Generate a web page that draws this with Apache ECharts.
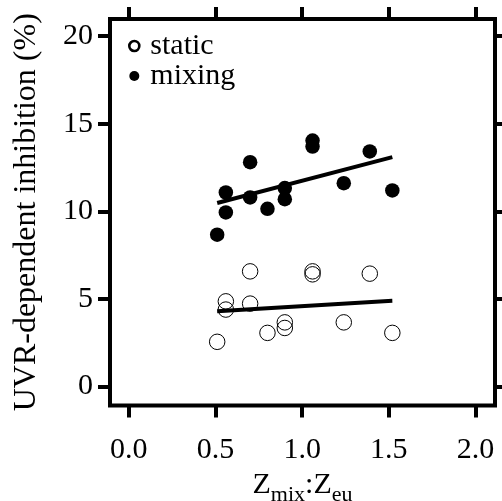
<!DOCTYPE html>
<html>
<head>
<meta charset="utf-8">
<script src="https://cdn.jsdelivr.net/npm/echarts@6/dist/echarts.min.js"></script>
<style>
html,body{margin:0;padding:0;background:#fff;}
#c{width:502px;height:501px;}
</style>
</head>
<body>
<div id="c"></div>
<script>
// Data
var staticPts = [
  [0.51, 2.55], [0.56, 4.86], [0.56, 4.39], [0.70, 6.57], [0.70, 4.73],
  [0.80, 3.06], [0.90, 3.66], [0.90, 3.34], [1.06, 6.57], [1.06, 6.40],
  [1.24, 3.66], [1.39, 6.44], [1.52, 3.06]
];
var mixingPts = [
  [0.51, 8.66], [0.56, 11.07], [0.56, 9.93], [0.70, 12.80], [0.70, 10.79],
  [0.80, 10.14], [0.90, 11.32], [0.90, 10.69], [1.06, 14.03], [1.06, 13.69],
  [1.24, 11.60], [1.39, 13.41], [1.52, 11.19]
];
var staticFit = [[0.51, 4.29], [1.52, 4.90]];
var mixingFit = [[0.51, 10.47], [1.52, 13.09]];
var xTicks = [0, 0.5, 1, 1.5, 2];
var yTicks = [0, 5, 10, 15, 20];

var FONT = "'Liberation Serif', 'Times New Roman', Times, 'DejaVu Serif', serif";
var chart = echarts.init(document.getElementById('c'), null, {renderer: 'canvas'});

function xAx(pos, main) {
  return {
    type: 'value', position: pos, min: -0.108, max: 2.112,
    axisLine: {show: false, onZero: false},
    axisTick: {show: true, inside: false, length: 12, customValues: xTicks,
      lineStyle: {color: '#000', width: 4}},
    axisLabel: {show: main, customValues: xTicks, margin: 30,
      formatter: function (v) { return v.toFixed(1); },
      fontFamily: FONT, fontSize: 30, color: '#000'},
    splitLine: {show: false},
    name: main ? '{z|Z}{s|mix}{z|:Z}{s|eu}' : '',
    nameLocation: 'middle', nameGap: 46,
    nameTextStyle: {
      fontFamily: FONT, color: '#000',
      rich: {
        z: {fontFamily: FONT, fontSize: 30, lineHeight: 30, verticalAlign: 'top', color: '#000'},
        s: {fontFamily: FONT, fontSize: 22, lineHeight: 22, padding: [14, 0, 0, 0], verticalAlign: 'top', color: '#000'}
      }
    }
  };
}
function yAx(pos, main) {
  return {
    type: 'value', position: pos, min: -1.084, max: 20.97,
    axisLine: {show: false, onZero: false},
    axisTick: {show: true, inside: false, length: 12, customValues: yTicks,
      lineStyle: {color: '#000', width: 4}},
    axisLabel: {show: main, customValues: yTicks, margin: 17,
      fontFamily: FONT, fontSize: 30, color: '#000'},
    splitLine: {show: false},
    name: main ? 'UVR-dependent inhibition (%)' : '',
    nameLocation: 'middle', nameGap: 67, nameRotate: 90,
    nameTextStyle: {fontFamily: FONT, fontSize: 32, color: '#000'}
  };
}

chart.setOption({
  animation: false,
  backgroundColor: '#fff',
  textStyle: {fontFamily: FONT},
  grid: {left: 110, right: 7, top: 19, bottom: 95.5, show: true,
    containLabel: false, outerBoundsMode: 'none',
    borderColor: '#000', borderWidth: 4, backgroundColor: 'transparent'},
  xAxis: [xAx('bottom', true), xAx('top', false)],
  yAxis: [yAx('left', true), yAx('right', false)],
  legend: {
    orient: 'vertical', left: 123, top: 26, itemWidth: 10, itemHeight: 10,
    itemGap: 0, icon: 'circle',
    textStyle: {fontFamily: FONT, fontSize: 30, color: '#000', lineHeight: 24, padding: [0, 0, 0, 6]},
    data: [
      {name: 'static', itemStyle: {color: '#fff', borderColor: '#000', borderWidth: 2.6, opacity: 1}},
      {name: 'mixing', itemStyle: {color: '#000', borderColor: '#000', borderWidth: 0, opacity: 1}}
    ]
  },
  series: [
    {name: 'static', type: 'scatter', data: staticPts, symbol: 'circle', symbolSize: 15.5,
      itemStyle: {color: 'rgba(255,255,255,0)', borderColor: '#000', borderWidth: 1, opacity: 1}, z: 3},
    {name: 'mixing', type: 'scatter', data: mixingPts, symbol: 'circle', symbolSize: 14.5,
      itemStyle: {color: '#000', borderColor: '#000', borderWidth: 0, opacity: 1}, z: 3},
    {name: 'staticFit', type: 'line', data: staticFit, symbol: 'none',
      lineStyle: {color: '#000', width: 4}, z: 4},
    {name: 'mixingFit', type: 'line', data: mixingFit, symbol: 'none',
      lineStyle: {color: '#000', width: 4}, z: 4}
  ]
});
</script>
</body>
</html>
